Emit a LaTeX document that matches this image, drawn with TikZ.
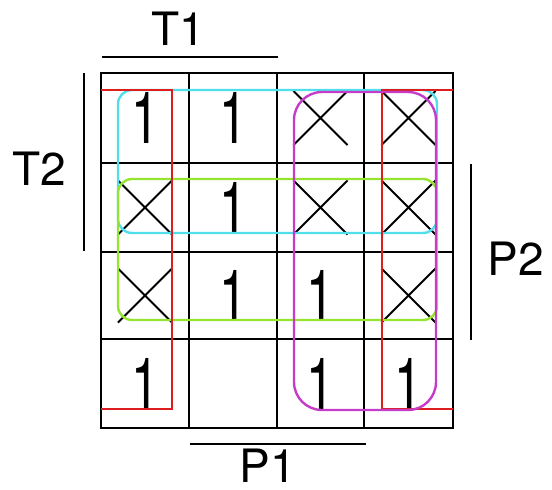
\documentclass[tikz,border=0pt]{standalone}
\usepackage{fontspec}
\setmainfont{TeX Gyre Heros}
\usepackage{graphicx}
\usepackage{tikz}
\usetikzlibrary{shapes.misc}

% a thin, tall "1" for the map cells
\newcommand{\kone}{\scalebox{1.25}[1.8]{1}}

\begin{document}
\begin{tikzpicture}[x=1pt, y=-1pt,
  gridline/.style={line width=2.6pt, line cap=rect},
  bar/.style={line width=2.2pt},
  lbl/.style={font=\fontsize{46}{46}\selectfont, inner sep=0pt},
  one/.style={font=\fontsize{40}{40}\selectfont, inner sep=0pt},
  dc/.style={draw, cross out, line width=2.1pt, minimum size=52pt, inner sep=0pt},
  loop/.style={line width=2.4pt, rounded corners=14pt}
]
  \useasboundingbox (0,0) rectangle (552,490);
  \definecolor{loopcyan}{RGB}{80,222,236}
  \definecolor{loopgreen}{RGB}{150,228,50}
  \definecolor{loopmag}{RGB}{196,60,200}
  \definecolor{loopred}{RGB}{222,30,30}

  % the map
  \foreach \x in {101,189,277,364,453}
    \draw[gridline] (\x,73) -- (\x,428);
  \foreach \y in {73,163,252,339,428}
    \draw[gridline] (101,\y) -- (453,\y);

  % row 1
  \node[one] (c11) at (145,118)   {\kone};
  \node[one] (c12) at (233,118)   {\kone};
  \node[dc]  (c13) at (320.5,118) {};
  \node[dc]  (c14) at (408.5,118) {};
  % row 2
  \node[dc]  (c21) at (145,207.5)   {};
  \node[one] (c22) at (233,207.5)   {\kone};
  \node[dc]  (c23) at (320.5,207.5) {};
  \node[dc]  (c24) at (408.5,207.5) {};
  % row 3
  \node[dc]  (c31) at (145,295.5)   {};
  \node[one] (c32) at (233,295.5)   {\kone};
  \node[one] (c33) at (320.5,295.5) {\kone};
  \node[dc]  (c34) at (408.5,295.5) {};
  % row 4
  \node[one] (c41) at (145,383.5)   {\kone};
  \node[one] (c43) at (320.5,383.5) {\kone};
  \node[one] (c44) at (408.5,383.5) {\kone};

  % groups
  \draw[loop, loopcyan]  (118,90) rectangle (437,233);
  \draw[loop, loopgreen] (118,179) rectangle (437,320);
  \draw[loopred, line width=2.4pt] (101,90) -- (172,90) -- (172,409) -- (101,409);
  \draw[loopred, line width=2.4pt] (453,90) -- (382,90) -- (382,409) -- (453,409);
  \draw[loop, loopmag, rounded corners=28pt] (294,92) rectangle (436,410);

  % variable bars
  \node[lbl] (T1) at (178.5,29)  {T1};
  \node[lbl] (T2) at (39,168.5)  {T2};
  \node[lbl] (P1) at (268,466)   {P1};
  \node[lbl] (P2) at (516,258.5) {P2};
  \draw[bar] (102,57) -- (278,57);
  \draw[bar] (84,73) -- (84,251);
  \draw[bar] (471,164) -- (471,340);
  \draw[bar] (190,444) -- (366,444);
\end{tikzpicture}
\end{document}
